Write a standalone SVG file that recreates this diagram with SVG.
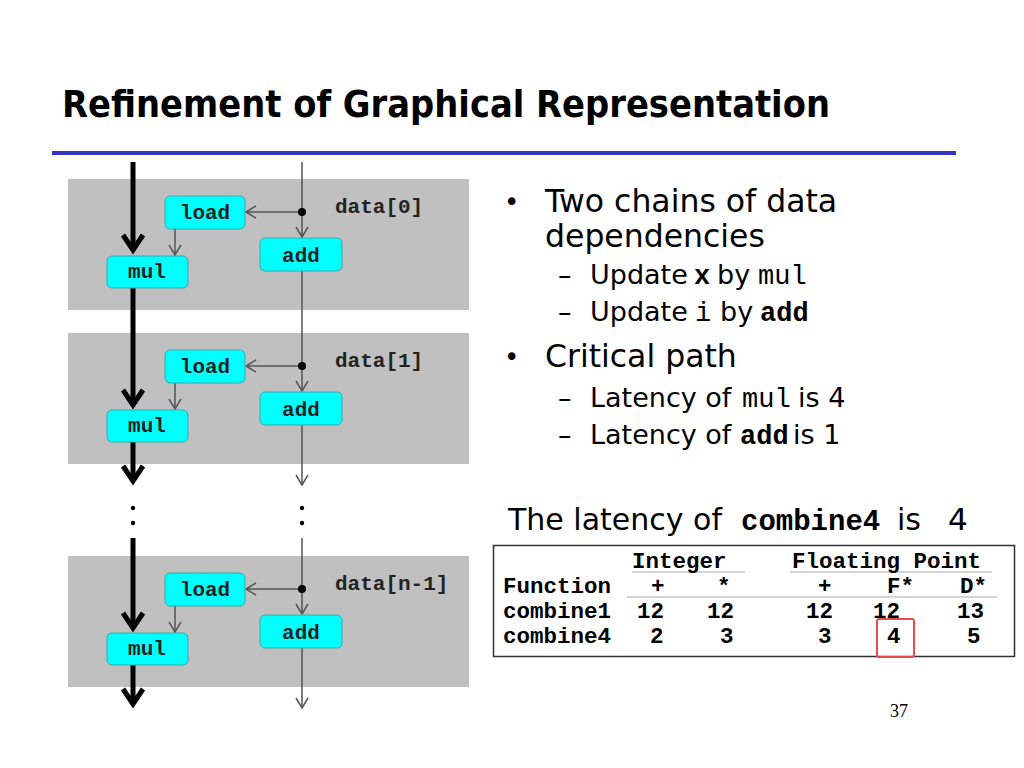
<svg xmlns="http://www.w3.org/2000/svg" width="1024" height="768" viewBox="0 0 1024 768">
<style>
.bg{fill:#ffffff}
.gray{fill:#c0c0c0}
.node rect{fill:#00ffff;stroke:#3aa9a9;stroke-width:1}
.node text{font-family:"Liberation Mono",monospace;font-weight:bold;font-size:21px;fill:#222;text-anchor:middle}
.lbl{font-family:"Liberation Mono",monospace;font-weight:bold;font-size:21px;fill:#222}
.thick{stroke:#000;stroke-width:5;fill:none}
.thin{stroke:#555;stroke-width:1.5;fill:none}
.title{font-family:"DejaVu Sans Condensed","DejaVu Sans",sans-serif;font-weight:bold;font-size:38px;fill:#000}
.body{font-family:"DejaVu Sans",sans-serif;fill:#000}
.mono{font-family:"Liberation Mono",monospace}
.b{font-weight:bold}
.tbl{font-family:"Liberation Mono",monospace;font-weight:bold;font-size:22.5px;fill:#000}
.rule{stroke:#aaa;stroke-width:1}
</style>
<defs>
<marker id="thinArrow" viewBox="-12 -8 14 16" refX="0" refY="0" markerWidth="14" markerHeight="16" markerUnits="userSpaceOnUse" orient="auto" overflow="visible">
<path d="M-10,-6 L0,0 L-10,6" fill="none" stroke="#555" stroke-width="1.5"/>
</marker>
<marker id="thickArrow" viewBox="-20 -14 26 28" refX="0" refY="0" markerWidth="26" markerHeight="28" markerUnits="userSpaceOnUse" orient="auto" overflow="visible">
<path d="M-15,-10 L0,0 L-15,10" fill="none" stroke="#000" stroke-width="5"/>
</marker>
</defs>
<rect class="bg" x="0" y="0" width="1024" height="768"/>

<text class="title" x="62" y="117" textLength="768" lengthAdjust="spacingAndGlyphs">Refinement of Graphical Representation</text>
<line x1="52" y1="153" x2="956" y2="153" stroke="#3434c8" stroke-width="4"/>

<g id="blocks">
<rect class="gray" x="68" y="179" width="401" height="131"/>
<rect class="gray" x="68" y="333" width="401" height="131"/>
<rect class="gray" x="68" y="556" width="401" height="131"/>
</g>

<g id="connectors">
<path class="thick" d="M133,162 V250" marker-end="url(#thickArrow)"/>
<path class="thick" d="M133,288 V405" marker-end="url(#thickArrow)"/>
<path class="thick" d="M133,442 V481" marker-end="url(#thickArrow)"/>
<path class="thick" d="M133,538 V628" marker-end="url(#thickArrow)"/>
<path class="thick" d="M133,665 V704" marker-end="url(#thickArrow)"/>
<path class="thin" d="M302,162 V237" marker-end="url(#thinArrow)"/>
<path class="thin" d="M302,271 V391" marker-end="url(#thinArrow)"/>
<path class="thin" d="M302,425 V485" marker-end="url(#thinArrow)"/>
<path class="thin" d="M302,538 V614" marker-end="url(#thinArrow)"/>
<path class="thin" d="M302,648 V708" marker-end="url(#thinArrow)"/>
<path class="thin" d="M302,212 H246" marker-end="url(#thinArrow)"/>
<path class="thin" d="M302,366 H246" marker-end="url(#thinArrow)"/>
<path class="thin" d="M302,589 H246" marker-end="url(#thinArrow)"/>
<path class="thin" d="M175,229 V255" marker-end="url(#thinArrow)"/>
<path class="thin" d="M175,383 V409" marker-end="url(#thinArrow)"/>
<path class="thin" d="M175,606 V632" marker-end="url(#thinArrow)"/>
<circle cx="302" cy="212" r="4" fill="#000"/>
<circle cx="302" cy="366" r="4" fill="#000"/>
<circle cx="302" cy="589" r="4" fill="#000"/>
<circle cx="133" cy="508" r="2.2" fill="#000"/>
<circle cx="133" cy="523" r="2.2" fill="#000"/>
<circle cx="302" cy="508" r="2.2" fill="#000"/>
<circle cx="302" cy="523" r="2.2" fill="#000"/>
</g>

<g id="load0" class="node"><rect x="165" y="196" width="80" height="33" rx="5"/><text x="205" y="219">load</text></g>
<g id="mul0" class="node"><rect x="107" y="256" width="81" height="32" rx="5"/><text x="147" y="278">mul</text></g>
<g id="add0" class="node"><rect x="260" y="238" width="82" height="33" rx="5"/><text x="301" y="262">add</text></g>
<text class="lbl" x="335" y="213">data[0]</text>

<g id="load1" class="node"><rect x="165" y="350" width="80" height="33" rx="5"/><text x="205" y="373">load</text></g>
<g id="mul1" class="node"><rect x="107" y="410" width="81" height="32" rx="5"/><text x="147" y="432">mul</text></g>
<g id="add1" class="node"><rect x="260" y="392" width="82" height="33" rx="5"/><text x="301" y="416">add</text></g>
<text class="lbl" x="335" y="367">data[1]</text>

<g id="load2" class="node"><rect x="165" y="573" width="80" height="33" rx="5"/><text x="205" y="596">load</text></g>
<g id="mul2" class="node"><rect x="107" y="633" width="81" height="32" rx="5"/><text x="147" y="655">mul</text></g>
<g id="add2" class="node"><rect x="260" y="615" width="82" height="33" rx="5"/><text x="301" y="639">add</text></g>
<text class="lbl" x="335" y="590">data[n-1]</text>

<g id="bullets" class="body">
<text x="504" y="211" font-size="26">•</text>
<text x="545" y="212" font-size="31.5">Two chains of data</text>
<text x="545" y="247" font-size="31.5">dependencies</text>
<text x="558" y="284" font-size="27">–</text>
<text y="284" font-size="27"><tspan x="590">Update</tspan><tspan x="694" class="mono b">x</tspan><tspan x="717">by</tspan><tspan x="758" class="mono">mul</tspan></text>
<text x="558" y="321" font-size="27">–</text>
<text y="321" font-size="27"><tspan x="590">Update</tspan><tspan x="695" class="mono">i</tspan><tspan x="720">by</tspan><tspan x="760" class="mono b">add</tspan></text>
<text x="504" y="366" font-size="26">•</text>
<text x="545" y="367" font-size="31.5">Critical path</text>
<text x="558" y="407" font-size="27">–</text>
<text y="407" font-size="27"><tspan x="590">Latency of</tspan><tspan x="742" class="mono">mul</tspan><tspan x="798">is 4</tspan></text>
<text x="558" y="444" font-size="27">–</text>
<text y="444" font-size="27"><tspan x="590">Latency of</tspan><tspan x="740" class="mono b">add</tspan><tspan x="793">is 1</tspan></text>
<text y="530" font-size="30"><tspan x="508">The latency of</tspan><tspan x="741" class="mono b" font-size="29">combine4</tspan><tspan x="897">is</tspan><tspan x="948" font-size="31">4</tspan></text>
</g>

<g id="table">
<rect x="493.5" y="545.5" width="521" height="111" fill="#fff" stroke="#333" stroke-width="1.5"/>
<line class="rule" x1="632" y1="572" x2="745" y2="572"/>
<line class="rule" x1="790" y1="572" x2="992" y2="572"/>
<line class="rule" x1="627" y1="597" x2="997" y2="597"/>
<g class="tbl">
<text x="632" y="568">Integer</text>
<text x="792" y="568">Floating Point</text>
<text x="503" y="593">Function</text>
<text x="651" y="593">+</text>
<text x="717" y="593">*</text>
<text x="818" y="593">+</text>
<text x="887" y="593">F*</text>
<text x="960" y="593">D*</text>
<text x="503" y="618">combine1</text>
<text x="637" y="618">12</text>
<text x="707" y="618">12</text>
<text x="806" y="618">12</text>
<text x="873" y="618">12</text>
<text x="957" y="618">13</text>
<text x="503" y="643">combine4</text>
<text x="650" y="643">2</text>
<text x="720" y="643">3</text>
<text x="818" y="643">3</text>
<text x="887" y="643">4</text>
<text x="967" y="643">5</text>
</g>
<rect x="877" y="619" width="37" height="38" rx="2" fill="none" stroke="#e84a4f" stroke-width="2"/>
</g>

<text x="890" y="717" font-family="Liberation Serif,serif" font-size="18" fill="#000">37</text>
</svg>
